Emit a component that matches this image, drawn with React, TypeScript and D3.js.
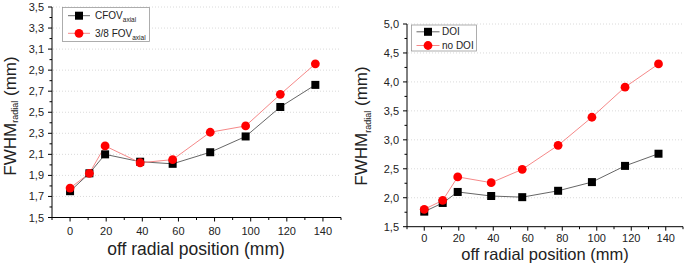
import React from "react";
import * as d3 from "d3";

const xPositions = [0, 10.7, 19.4, 38.8, 56.8, 77.6, 97.2, 116.4, 135.8];
const cfovAxial = [1.75, 1.92, 2.1, 2.03, 2.01, 2.12, 2.27, 2.55, 2.76];
const fov38Axial = [1.78, 1.92, 2.18, 2.02, 2.05, 2.31, 2.37, 2.67, 2.96];
const doiValues = [1.76, 1.91, 2.1, 2.03, 2.01, 2.12, 2.27, 2.55, 2.76];
const noDoiValues = [1.8, 1.955, 2.36, 2.26, 2.49, 2.905, 3.39, 3.91, 4.31];

const xTicks = [0, 20, 40, 60, 80, 100, 120, 140];
const xMinorTicks = [-10, 10, 30, 50, 70, 90, 110, 130, 150];
const leftYTicks = [1.5, 1.7, 1.9, 2.1, 2.3, 2.5, 2.7, 2.9, 3.1, 3.3, 3.5];
const leftYMinor = [1.6, 1.8, 2.0, 2.2, 2.4, 2.6, 2.8, 3.0, 3.2, 3.4];
const rightYTicks = [1.5, 2.0, 2.5, 3.0, 3.5, 4.0, 4.5, 5.0];
const rightYMinor = [1.75, 2.25, 2.75, 3.25, 3.75, 4.25, 4.75];

const FONT = "'Liberation Sans', Arial, sans-serif";
const BLACK_LINE = "#555";
const RED_LINE = "#f47a7a";
const RED = "#ff0000";

type Series = { values: number[]; kind: "square" | "circle" };

type PanelProps = {
  xRange: [number, number];
  yDomain: [number, number];
  yRange: [number, number];
  yTicks: number[];
  yMinor: number[];
  yFormat: (v: number) => string;
  black: number[];
  red: number[];
  xTickOffset: number;
  legend: { x: number; y: number; w: number; h: number; rowY: [number, number]; lineX: [number, number]; textX: number; labels: [React.ReactNode, React.ReactNode] };
  xLabel: { x: number; y: number; size: number };
  yLabel: { x: number; y: number; subDy: number; size: number };
};

function Marker({ kind, cx, cy }: { kind: "square" | "circle"; cx: number; cy: number }) {
  if (kind === "square") {
    const s = 8;
    return <rect x={cx - s / 2} y={cy - s / 2} width={s} height={s} fill="#000" />;
  }
  return <circle cx={cx} cy={cy} r={4.4} fill={RED} />;
}

function Panel(p: PanelProps) {
  const x = d3.scaleLinear().domain([-10, 150]).range(p.xRange);
  const y = d3.scaleLinear().domain(p.yDomain).range(p.yRange);
  const x0 = p.xRange[0];
  const x1 = p.xRange[1];
  const yb = p.yRange[0];
  const line = d3
    .line<number>()
    .x((_, i) => x(xPositions[i]))
    .y((d) => y(d));
  const series: Series[] = [
    { values: p.black, kind: "square" },
    { values: p.red, kind: "circle" },
  ];
  return (
    <g>
      {p.yTicks.slice(1).map((t) => (
        <line key={"g" + t} x1={x0 + 1} x2={x1} y1={y(t)} y2={y(t)} stroke="#d0d0d0" strokeWidth={0.8} strokeDasharray="1,2" />
      ))}
      <line x1={x0} x2={x0} y1={p.yRange[1]} y2={yb} stroke="#000" strokeWidth={1} />
      <line x1={x0} x2={x1} y1={yb} y2={yb} stroke="#000" strokeWidth={1} />
      {xTicks.map((t) => (
        <g key={"xt" + t}>
          <line x1={x(t)} x2={x(t)} y1={yb} y2={yb + 4} stroke="#000" />
          <text x={x(t)} y={yb + p.xTickOffset} textAnchor="middle" fontSize={11} fontFamily={FONT} fill="#222">
            {t}
          </text>
        </g>
      ))}
      {xMinorTicks.map((t) => (
        <line key={"xm" + t} x1={x(t)} x2={x(t)} y1={yb} y2={yb + 2.5} stroke="#000" />
      ))}
      {p.yTicks.map((t) => (
        <g key={"yt" + t}>
          <line x1={x0 - 4} x2={x0} y1={y(t)} y2={y(t)} stroke="#000" />
          <text x={x0 - 8} y={y(t) + 4} textAnchor="end" fontSize={11} fontFamily={FONT} fill="#222">
            {p.yFormat(t)}
          </text>
        </g>
      ))}
      {p.yMinor.map((t) => (
        <line key={"ym" + t} x1={x0 - 2.5} x2={x0} y1={y(t)} y2={y(t)} stroke="#000" />
      ))}
      <path d={line(p.black) || ""} fill="none" stroke={BLACK_LINE} strokeWidth={0.9} />
      <path d={line(p.red) || ""} fill="none" stroke={RED_LINE} strokeWidth={0.9} />
      {series.map((s) =>
        s.values.map((v, i) => <Marker key={s.kind + i} kind={s.kind} cx={x(xPositions[i])} cy={y(v)} />)
      )}
      <rect x={p.legend.x} y={p.legend.y} width={p.legend.w} height={p.legend.h} fill="#fff" stroke="#999" strokeWidth={0.8} />
      {[0, 1].map((i) => {
        const ry = p.legend.rowY[i];
        const cx = (p.legend.lineX[0] + p.legend.lineX[1]) / 2;
        return (
          <g key={"lg" + i}>
            <line x1={p.legend.lineX[0]} x2={p.legend.lineX[1]} y1={ry} y2={ry} stroke={i === 0 ? BLACK_LINE : RED_LINE} strokeWidth={0.9} />
            <Marker kind={i === 0 ? "square" : "circle"} cx={cx} cy={ry} />
            <text x={p.legend.textX} y={ry + 3.6} fontSize={10} fontFamily={FONT} fill="#222">
              {p.legend.labels[i]}
            </text>
          </g>
        );
      })}
      <text x={p.xLabel.x} y={p.xLabel.y} textAnchor="middle" fontSize={p.xLabel.size} fontFamily={FONT} fill="#222">
        off radial position (mm)
      </text>
      <text
        transform={`translate(${p.yLabel.x},${p.yLabel.y}) rotate(-90)`}
        textAnchor="middle"
        fontSize={p.yLabel.size}
        fontFamily={FONT}
        fill="#222"
      >
        FWHM
        <tspan fontSize={9} dy={p.yLabel.subDy}>radial</tspan>
        <tspan dy={-p.yLabel.subDy}> (mm)</tspan>
      </text>
    </g>
  );
}

const fmt1 = (v: number) => d3.format(".1f")(v).replace(".", ",");

export default function App() {
  return (
    <svg
      width={685}
      height={265}
      style={{ position: "absolute", left: 0, top: 0, background: "#fff" }}
    >
      <rect width={685} height={265} fill="#fff" />
      <Panel
        xRange={[52, 341]}
        yDomain={[1.5, 3.5]}
        yRange={[217.5, 7]}
        yTicks={leftYTicks}
        yMinor={leftYMinor}
        yFormat={fmt1}
        black={cfovAxial}
        red={fov38Axial}
        xTickOffset={17.5}
        legend={{
          x: 62.5,
          y: 7.5,
          w: 87,
          h: 34,
          rowY: [15.7, 33.3],
          lineX: [68, 90],
          textX: 95,
          labels: [
            <>
              CFOV<tspan fontSize={6.5} dy={3}>axial</tspan>
            </>,
            <>
              3/8 FOV<tspan fontSize={6.5} dy={3}>axial</tspan>
            </>,
          ],
        }}
        xLabel={{ x: 196, y: 255, size: 17.5 }}
        yLabel={{ x: 15.5, y: 116, subDy: 2, size: 17 }}
      />
      <Panel
        xRange={[407, 683]}
        yDomain={[1.5, 5.0]}
        yRange={[226.7, 24]}
        yTicks={rightYTicks}
        yMinor={rightYMinor}
        yFormat={fmt1}
        black={doiValues}
        red={noDoiValues}
        xTickOffset={15.5}
        legend={{
          x: 411.5,
          y: 25,
          w: 65,
          h: 26,
          rowY: [31.8, 45.5],
          lineX: [416.5, 439.5],
          textX: 442,
          labels: [<>DOI</>, <>no DOI</>],
        }}
        xLabel={{ x: 545, y: 259.5, size: 16.5 }}
        yLabel={{ x: 367, y: 126, subDy: 4, size: 17 }}
      />
    </svg>
  );
}
